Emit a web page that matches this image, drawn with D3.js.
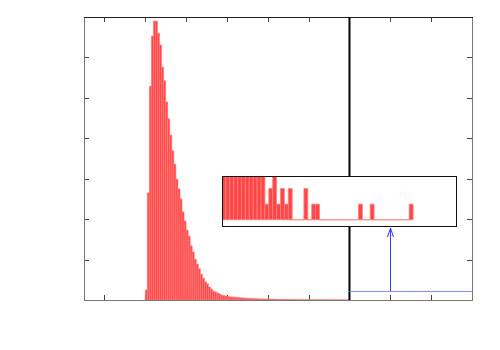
<!DOCTYPE html>
<html>
<head>
<meta charset="utf-8">
<script src="https://cdn.jsdelivr.net/npm/d3@7"></script>
<style>
  html, body { margin: 0; padding: 0; background: #fff; }
  svg { display: block; }
</style>
</head>
<body>
<script>
// ---------- data ----------
// histogram counts, one bin per unit, bins start at x = 0
const mainCounts = [
  250, 2650, 5290, 6530, 6900, 6900, 6600, 6310, 5760, 5420,
  4900, 4480, 4080, 3690, 3360, 2990, 2750, 2500, 2180, 1950,
  1730, 1580, 1340, 1190, 1010, 890, 770, 640, 540, 450,
  400, 320, 270, 220, 200, 170, 150, 120, 110, 100,
  90, 78, 75, 72, 68, 62, 57, 52, 50, 45,
  40, 38, 35, 35, 32, 30, 28, 28, 25, 24,
  22, 20, 20, 18, 16, 15, 15, 14, 13, 12,
  12, 11, 10, 10, 9, 9, 8, 8, 8, 7,
  7, 6, 7, 6, 6, 5, 5, 6, 5, 4,
  5, 4, 4, 4, 3, 4, 3, 4, 3, 3
];
// tail counts (bins 100 .. 148), shown magnified in the inset
const tailCounts = [
  6, 5, 5, 4, 4, 4, 3, 3, 3, 3,
  3, 1, 2, 3, 1, 2, 1, 2, 0, 0,
  0, 2, 0, 1, 1, 0, 0, 0, 0, 0,
  0, 0, 0, 0, 0, 1, 0, 0, 1, 0,
  0, 0, 0, 0, 0, 0, 0, 0, 1
];
const tailStart = 100;
const xTicks = [-20, 0, 20, 40, 60, 80, 100, 120, 140, 160];
const yTicks = [1000, 2000, 3000, 4000, 5000, 6000, 7000];
const cutX = 100;          // vertical marker
const zoomBandY = 220;     // level of the zoom band marker
const arrowX = 120;

// ---------- layout ----------
const W = 500, H = 350;
const L = 84, R = 472, T = 17, B = 300;
const svg = d3.select("body").append("svg").attr("width", W).attr("height", H);

const x = d3.scaleLinear().domain([-30, 160]).range([L, R]);
const y = d3.scaleLinear().domain([0, 7000]).range([B, T]);

const barFill = "#ff4646", barStroke = "#ff8080";
function barPath(xs, ys, v, i, start) {
  const x0 = xs(start + i), x1 = xs(start + i + 1);
  return `M${x0},${ys(0)}V${ys(v)}H${x1}V${ys(0)}Z`;
}

// ticks (inward)
const tickG = svg.append("g").attr("stroke", "#444").attr("stroke-width", 1);
xTicks.forEach(t => {
  const px = Math.round(x(t)) + 0.5;
  tickG.append("line").attr("x1", px).attr("x2", px).attr("y1", B).attr("y2", B - 5);
  tickG.append("line").attr("x1", px).attr("x2", px).attr("y1", T).attr("y2", T + 5);
});
yTicks.forEach(t => {
  const py = Math.round(y(t)) + 0.5;
  tickG.append("line").attr("x1", L).attr("x2", L + 5).attr("y1", py).attr("y2", py);
  tickG.append("line").attr("x1", R).attr("x2", R - 5).attr("y1", py).attr("y2", py);
});

// main bars
svg.append("g").selectAll("path").data(mainCounts.filter((d, i) => i < cutX)).join("path")
  .attr("d", (d, i) => barPath(x, y, d, i, 0))
  .attr("fill", barFill).attr("stroke", barStroke).attr("stroke-width", 0.6);

// frame
svg.append("rect").attr("x", L + 0.5).attr("y", T + 0.5)
  .attr("width", R - L).attr("height", B - T)
  .attr("fill", "none").attr("stroke", "#777").attr("stroke-width", 1);
svg.append("line").attr("x1", L).attr("x2", R + 1).attr("y1", T + 0.5).attr("y2", T + 0.5)
  .attr("stroke", "#222").attr("stroke-width", 1);

// cut line
svg.append("line").attr("x1", x(cutX)).attr("x2", x(cutX)).attr("y1", T).attr("y2", B)
  .attr("stroke", "#000").attr("stroke-width", 2);

// zoom band marker
svg.append("line").attr("x1", x(cutX)).attr("x2", R).attr("y1", Math.round(y(zoomBandY)) + 0.5)
  .attr("y2", Math.round(y(zoomBandY)) + 0.5).attr("stroke", "#8a8aff").attr("stroke-width", 1);

// ---------- inset ----------
const IL = 222, IR = 456, IT = 176, IB = 226;
const xi = d3.scaleLinear().domain([tailStart, 160]).range([IL, IR]);
const yi = d3.scaleLinear().domain([-0.4, 2.8]).range([IB, IT]);

svg.append("rect").attr("x", IL).attr("y", IT).attr("width", IR - IL).attr("height", IB - IT)
  .attr("fill", "#fff");
svg.append("clipPath").attr("id", "insetClip").append("rect")
  .attr("x", IL).attr("y", IT).attr("width", IR - IL).attr("height", IB - IT);
svg.append("g").attr("clip-path", "url(#insetClip)")
  .selectAll("path").data(tailCounts).join("path")
  .attr("d", (d, i) => barPath(xi, yi, d, i, tailStart))
  .attr("fill", barFill).attr("stroke", barStroke).attr("stroke-width", 0.8);
svg.append("rect").attr("x", IL + 0.5).attr("y", IT + 0.5).attr("width", IR - IL).attr("height", IB - IT)
  .attr("fill", "none").attr("stroke", "#111").attr("stroke-width", 1);

// arrow
const ax = Math.round(x(arrowX)) + 0.5;
const ay0 = Math.round(y(zoomBandY)), ay1 = IB + 2;
const arrow = svg.append("g").attr("stroke", "#3a3aff").attr("stroke-width", 1).attr("fill", "none");
arrow.append("line").attr("x1", ax).attr("x2", ax).attr("y1", ay0).attr("y2", ay1);
arrow.append("path").attr("d", `M${ax - 3},${ay1 + 9}L${ax},${ay1}L${ax + 3},${ay1 + 9}`);
</script>
</body>
</html>
